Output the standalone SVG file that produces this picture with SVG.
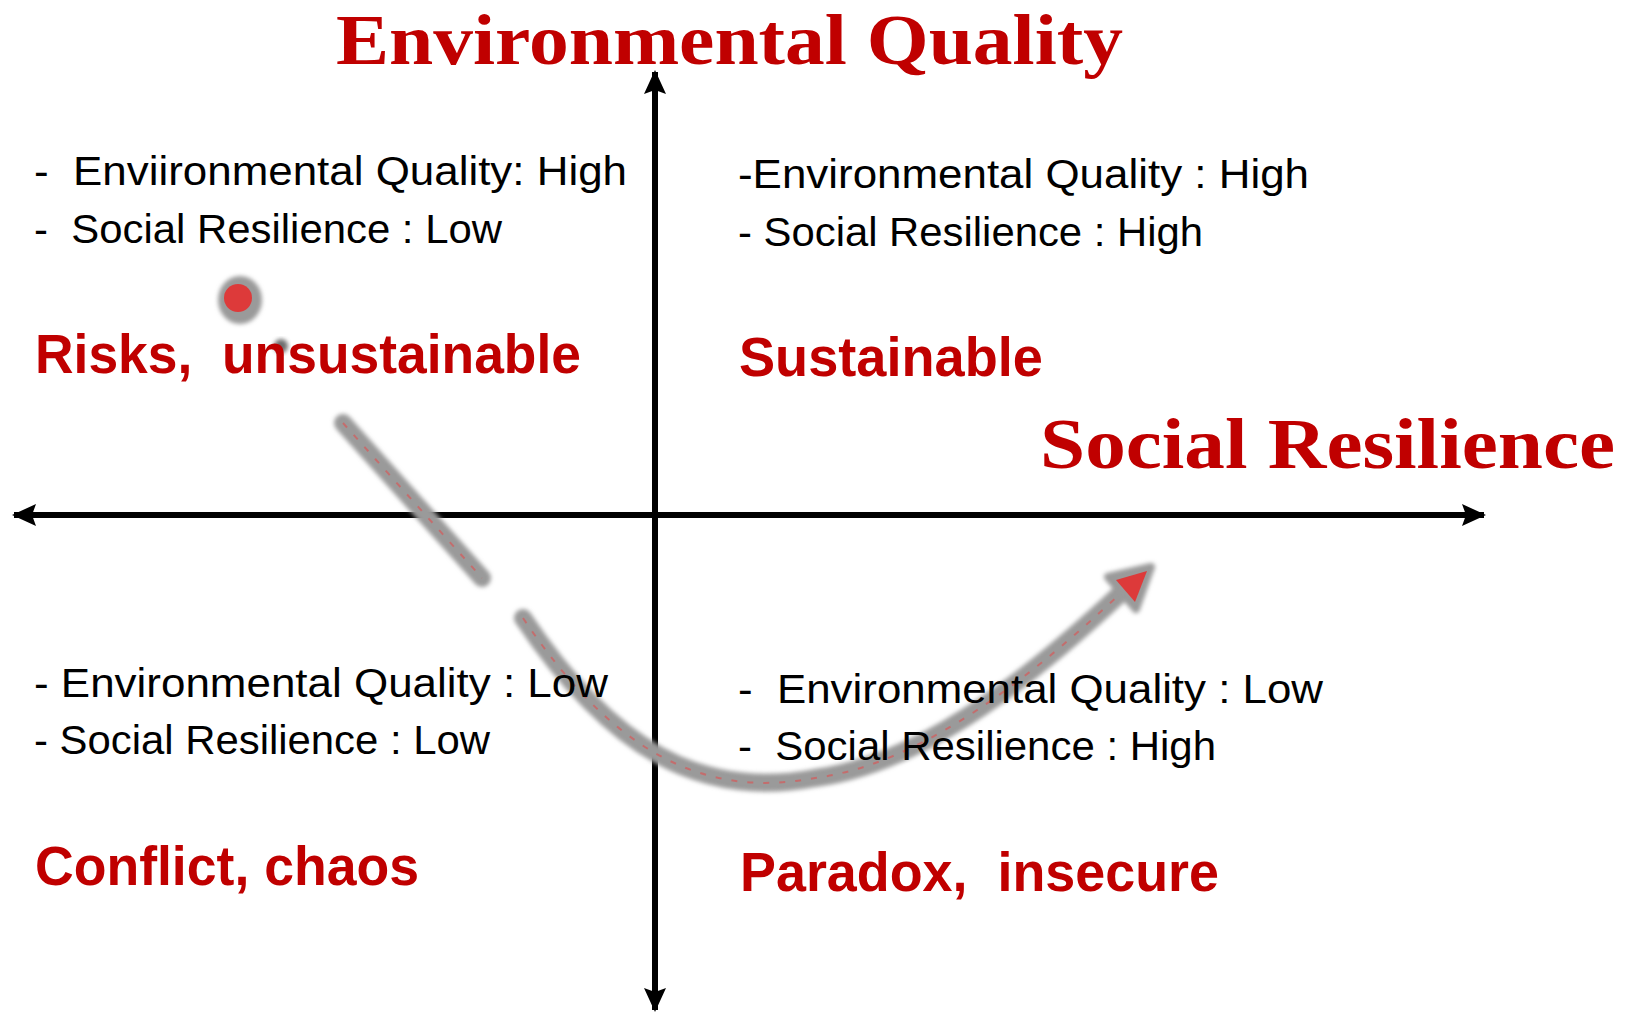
<svg xmlns="http://www.w3.org/2000/svg" width="1636" height="1013" viewBox="0 0 1636 1013">
<style>
.title{font-family:"Liberation Serif",serif;font-weight:bold;font-size:71px;fill:#C00000;white-space:pre}
.body{font-family:"Liberation Sans",sans-serif;font-size:40px;fill:#000;white-space:pre}
.head{font-family:"Liberation Sans",sans-serif;font-weight:bold;font-size:56px;fill:#C00000;white-space:pre}
.axis{stroke:#000;stroke-width:6;fill:none}
.trail{stroke:#9a9a9a;stroke-width:18;fill:none;stroke-linecap:round;filter:url(#blur)}
.core{stroke:#e05050;stroke-width:2;fill:none;stroke-dasharray:6 10;opacity:0.6}
</style>
<defs>
<filter id="blur" x="-20%" y="-20%" width="140%" height="140%"><feGaussianBlur stdDeviation="2.2"/></filter>
<marker id="ah" viewBox="0 0 24 24" refX="22" refY="12" markerWidth="24" markerHeight="24" markerUnits="userSpaceOnUse" orient="auto-start-reverse">
<path d="M0,1 L24,12 L0,23 L4,12 Z" fill="#000"/>
</marker>
</defs>
<rect width="1636" height="1013" fill="#fff"/>
<g id="connectors">
<line class="axis" x1="655" y1="1010" x2="655" y2="72" marker-start="url(#ah)" marker-end="url(#ah)"/>
<line class="axis" x1="14" y1="515" x2="1484" y2="515" marker-start="url(#ah)" marker-end="url(#ah)"/>
<g id="trajectory">
<ellipse cx="240" cy="300" rx="22" ry="24" fill="#9a9a9a" filter="url(#blur)"/>
<circle cx="238" cy="298" r="14" fill="#dd3a3a"/>
<circle cx="281" cy="346" r="7" fill="#555" filter="url(#blur)" opacity="0.85"/>
<line class="trail" x1="343" y1="423" x2="482" y2="578"/>
<line class="core" x1="343" y1="423" x2="482" y2="578"/>
<path class="trail" d="M523,618 C610,748 700,800 815,778 C915,765 1020,688 1122,592"/>
<path class="core" d="M523,618 C610,748 700,800 815,778 C915,765 1020,688 1122,592"/>
<polygon points="1151,567 1108,577 1136,609" fill="#9a9a9a" stroke="#9a9a9a" stroke-width="8" stroke-linejoin="round" filter="url(#blur)"/>
<polygon points="1147,571 1116,580 1135,602" fill="#dd3a3a"/>
</g>
</g>
<g id="axis-env"><text class="title" x="336" y="64" textLength="787" lengthAdjust="spacingAndGlyphs">Environmental Quality</text></g>
<g id="axis-social"><text class="title" x="1040" y="468" textLength="575" lengthAdjust="spacingAndGlyphs">Social Resilience</text></g>
<g id="q-top-left">
<text class="body" x="34" y="185" textLength="593" lengthAdjust="spacingAndGlyphs">-  Enviironmental Quality: High</text>
<text class="body" x="34" y="243" textLength="468" lengthAdjust="spacingAndGlyphs">-  Social Resilience : Low</text>
<text class="head" x="35" y="373" textLength="546" lengthAdjust="spacingAndGlyphs">Risks,  unsustainable</text>
</g>
<g id="q-top-right">
<text class="body" x="738" y="188" textLength="571" lengthAdjust="spacingAndGlyphs">-Environmental Quality : High</text>
<text class="body" x="738" y="246" textLength="465" lengthAdjust="spacingAndGlyphs">- Social Resilience : High</text>
<text class="head" x="739" y="376" textLength="304" lengthAdjust="spacingAndGlyphs">Sustainable</text>
</g>
<g id="q-bottom-left">
<text class="body" x="34" y="697" textLength="574" lengthAdjust="spacingAndGlyphs">- Environmental Quality : Low</text>
<text class="body" x="34" y="754" textLength="456" lengthAdjust="spacingAndGlyphs">- Social Resilience : Low</text>
<text class="head" x="35" y="885" textLength="384" lengthAdjust="spacingAndGlyphs">Conflict, chaos</text>
</g>
<g id="q-bottom-right">
<text class="body" x="738" y="703" textLength="585" lengthAdjust="spacingAndGlyphs">-  Environmental Quality : Low</text>
<text class="body" x="738" y="760" textLength="478" lengthAdjust="spacingAndGlyphs">-  Social Resilience : High</text>
<text class="head" x="740" y="891" textLength="479" lengthAdjust="spacingAndGlyphs">Paradox,  insecure</text>
</g>
</svg>
